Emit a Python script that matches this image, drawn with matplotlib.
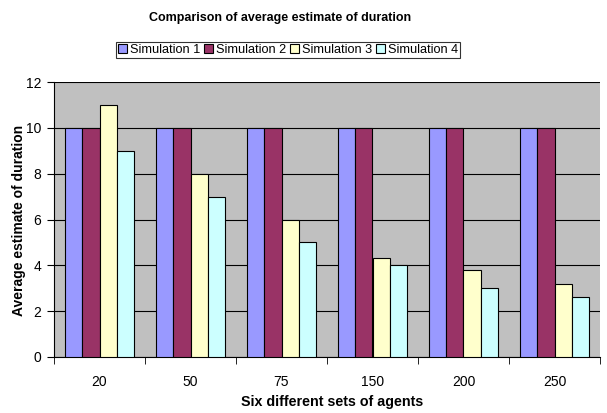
import matplotlib
matplotlib.use("Agg")
import matplotlib.pyplot as plt
import numpy as np

categories = ["20", "50", "75", "150", "200", "250"]
sim1 = [10, 10, 10, 10, 10, 10]
sim2 = [10, 10, 10, 10, 10, 10]
sim3 = [11, 8, 6, 4.3, 3.8, 3.2]
sim4 = [9, 7, 5, 4, 3, 2.6]
series_names = ["Simulation 1", "Simulation 2", "Simulation 3", "Simulation 4"]
colors = ["#9999FF", "#993366", "#FFFFCC", "#CCFFFF"]

fig = plt.figure(figsize=(6.07, 4.13), dpi=100)
ax = fig.add_axes([54/607, 1-357/413, (600-54)/607, (357-82)/413])
ax.set_facecolor("#C0C0C0")

x = np.arange(len(categories))
w = 0.187
for i, (vals, name, c) in enumerate(zip([sim1, sim2, sim3, sim4], series_names, colors)):
    ax.bar(x + (i - 1.5) * w, vals, w, color=c, edgecolor="black", linewidth=0.8,
           label=name, zorder=3)

ax.set_xlim(-0.5, len(categories) - 0.5)
ax.set_ylim(0, 12)
ax.set_yticks(range(0, 13, 2))
ax.yaxis.grid(True, color="black", linewidth=0.8, zorder=0)
ax.set_xticks(x)
ax.set_xticklabels(categories, fontsize=10, family="Liberation Sans")
ax.set_xticks(np.arange(-0.5, len(categories), 1), minor=True)
ax.tick_params(axis="x", which="major", length=0, pad=13)
ax.tick_params(axis="x", which="minor", length=5, color="black")
ax.tick_params(axis="y", length=5, labelsize=10, direction="out", pad=4)
for lbl in ax.get_yticklabels():
    lbl.set_family("Liberation Sans")
for s in ["top", "right"]:
    ax.spines[s].set_visible(False)
ax.spines["left"].set_color("black")
ax.spines["bottom"].set_color("black")

fig.text(332/607, 1 - 402/413, "Six different sets of agents", ha="center", va="center",
         fontsize=10.3, fontweight="bold", family="Liberation Sans")
fig.text(19/607, 1 - 220/413, "Average estimate of duration", ha="center", va="center",
         rotation=90, fontsize=10, fontweight="bold", family="Liberation Sans")
fig.text(280/607, 1 - 18/413, "Comparison of average estimate of duration",
         ha="center", va="center", fontsize=9, fontweight="bold", family="Liberation Sans")

leg = fig.legend(loc="center", bbox_to_anchor=(288/607, 1 - 50/413), ncol=4,
                 frameon=True, fancybox=False, edgecolor="black",
                 prop={"family": "Liberation Sans", "size": 9.2},
                 handlelength=0.7, handleheight=0.7, handletextpad=0.25,
                 columnspacing=0.3, borderpad=0.15, borderaxespad=0)
leg.get_frame().set_linewidth(0.8)

fig.savefig("out.png", dpi=100)
